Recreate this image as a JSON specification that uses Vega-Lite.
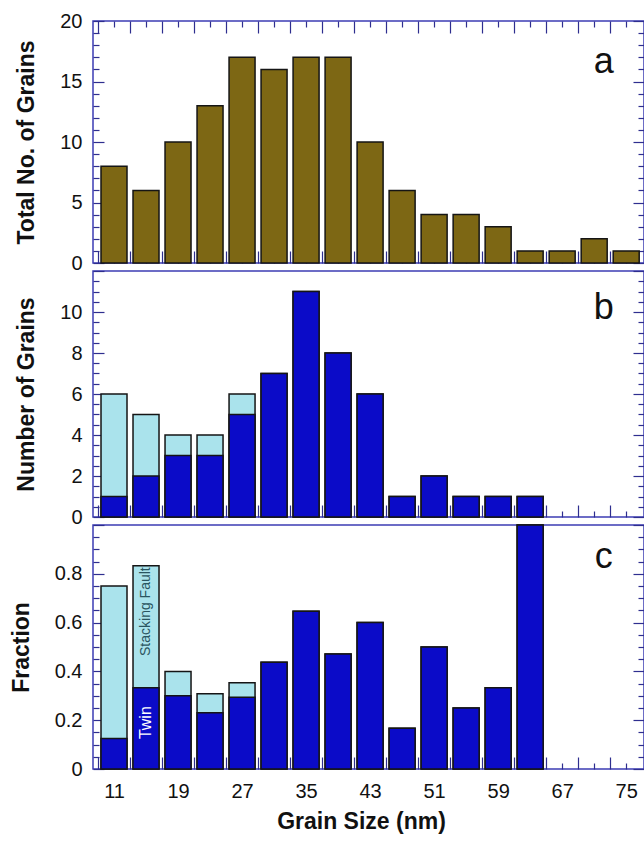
{
  "$schema": "https://vega.github.io/schema/vega-lite/v6.json",
  "autosize": {"type": "pad"},
  "padding": {"left": 9, "top": 10, "right": 0, "bottom": 0},
  "background": "white",
  "spacing": 8,
  "bounds": "flush",
  "config": {
    "font": "Liberation Sans",
    "view": {"stroke": "#3c3cb4", "strokeWidth": 1.5},
    "axis": {
      "domain": false, "grid": false, "tickColor": "#2e2e8f", "tickWidth": 1.2,
      "labelFont": "Liberation Sans", "labelFontSize": 20, "labelColor": "#111",
      "titleFont": "Liberation Sans", "titleFontSize": 23, "titleFontWeight": "bold", "titleColor": "#111",
      "labelOverlap": false, "labelBound": false, "labelFlush": false
    }
  },
  "datasets": {
    "total": [
      {"size": 11, "count": 8}, {"size": 15, "count": 6}, {"size": 19, "count": 10}, {"size": 23, "count": 13},
      {"size": 27, "count": 17}, {"size": 31, "count": 16}, {"size": 35, "count": 17}, {"size": 39, "count": 17},
      {"size": 43, "count": 10}, {"size": 47, "count": 6}, {"size": 51, "count": 4}, {"size": 55, "count": 4},
      {"size": 59, "count": 3}, {"size": 63, "count": 1}, {"size": 67, "count": 1}, {"size": 71, "count": 2},
      {"size": 75, "count": 1}
    ],
    "number": [
      {"size": 11, "twin": 1, "all": 6}, {"size": 15, "twin": 2, "all": 5}, {"size": 19, "twin": 3, "all": 4},
      {"size": 23, "twin": 3, "all": 4}, {"size": 27, "twin": 5, "all": 6}, {"size": 31, "twin": 7, "all": 7},
      {"size": 35, "twin": 11, "all": 11}, {"size": 39, "twin": 8, "all": 8}, {"size": 43, "twin": 6, "all": 6},
      {"size": 47, "twin": 1, "all": 1}, {"size": 51, "twin": 2, "all": 2}, {"size": 55, "twin": 1, "all": 1},
      {"size": 59, "twin": 1, "all": 1}, {"size": 63, "twin": 1, "all": 1}
    ],
    "fraction": [
      {"size": 11, "twin": 0.125, "all": 0.75}, {"size": 15, "twin": 0.333, "all": 0.833},
      {"size": 19, "twin": 0.3, "all": 0.4}, {"size": 23, "twin": 0.231, "all": 0.308},
      {"size": 27, "twin": 0.294, "all": 0.353}, {"size": 31, "twin": 0.4375, "all": 0.4375},
      {"size": 35, "twin": 0.647, "all": 0.647}, {"size": 39, "twin": 0.471, "all": 0.471},
      {"size": 43, "twin": 0.6, "all": 0.6}, {"size": 47, "twin": 0.167, "all": 0.167},
      {"size": 51, "twin": 0.5, "all": 0.5}, {"size": 55, "twin": 0.25, "all": 0.25},
      {"size": 59, "twin": 0.333, "all": 0.333}, {"size": 63, "twin": 1.0, "all": 1.0}
    ]
  },
  "vconcat": [
    {
      "width": 551, "height": 242,
      "layer": [
        {
          "data": {"name": "total"},
          "mark": {"type": "bar", "orient": "vertical", "size": 26, "color": "#7d6714", "stroke": "#151515", "strokeWidth": 1.5},
          "encoding": {
            "x": {"field": "size", "type": "quantitative", "scale": {"domain": [9, 76.6], "nice": false, "zero": false},
              "axis": {"orient": "bottom", "title": null, "labels": false,
                "values": [9,11,13,15,17,19,21,23,25,27,29,31,33,35,37,39,41,43,45,47,49,51,53,55,57,59,61,63,65,67,69,71,73,75],
                "tickSize": {"condition": {"test": "(datum.value - 9) % 4 === 0", "value": -12}, "value": -6}}},
            "y": {"field": "count", "type": "quantitative", "stack": null, "scale": {"domain": [0, 20], "nice": false},
              "axis": {"orient": "left", "title": "Total No. of Grains", "titleX": -60, "titleBaseline": "alphabetic", "labelPadding": 22,
                "values": [0,1,2,3,4,5,6,7,8,9,10,11,12,13,14,15,16,17,18,19,20],
                "tickSize": {"condition": {"test": "datum.value % 5 === 0", "value": -11}, "value": -6},
                "labelExpr": "datum.value % 5 === 0 ? format(datum.value, 'd') : ''"}}
          }
        },
        {
          "data": {"values": [{"size": 72.2, "value": 16.6, "label": "a"}]},
          "mark": {"type": "text", "fontSize": 36, "font": "Liberation Sans", "color": "#111", "align": "center", "baseline": "middle"},
          "encoding": {
            "x": {"field": "size", "type": "quantitative",
              "axis": {"orient": "top", "title": null, "labels": false,
                "values": [9,11,13,15,17,19,21,23,25,27,29,31,33,35,37,39,41,43,45,47,49,51,53,55,57,59,61,63,65,67,69,71,73,75],
                "tickSize": {"condition": {"test": "(datum.value - 9) % 4 === 0", "value": -12}, "value": -6}}},
            "y": {"field": "value", "type": "quantitative",
              "axis": {"orient": "right", "title": null, "labels": false,
                "values": [0,1,2,3,4,5,6,7,8,9,10,11,12,13,14,15,16,17,18,19,20],
                "tickSize": {"condition": {"test": "datum.value % 5 === 0", "value": -11}, "value": -6}}},
            "text": {"field": "label"}
          }
        }
      ],
      "resolve": {"axis": {"x": "independent", "y": "independent"}}
    },
    {
      "width": 551, "height": 246,
      "layer": [
        {
          "data": {"name": "number"},
          "mark": {"type": "bar", "orient": "vertical", "size": 26, "color": "#aae3ec", "stroke": "#151515", "strokeWidth": 1.5},
          "encoding": {
            "x": {"field": "size", "type": "quantitative", "scale": {"domain": [9, 76.6], "nice": false, "zero": false},
              "axis": {"orient": "bottom", "title": null, "labels": false,
                "values": [9,11,13,15,17,19,21,23,25,27,29,31,33,35,37,39,41,43,45,47,49,51,53,55,57,59,61,63,65,67,69,71,73,75],
                "tickSize": {"condition": {"test": "(datum.value - 9) % 4 === 0", "value": -12}, "value": -6}}},
            "y": {"field": "all", "type": "quantitative", "stack": null, "scale": {"domain": [0, 12], "nice": false},
              "axis": {"orient": "left", "title": "Number of Grains", "titleX": -60, "titleBaseline": "alphabetic", "labelPadding": 22,
                "values": [0,0.5,1,1.5,2,2.5,3,3.5,4,4.5,5,5.5,6,6.5,7,7.5,8,8.5,9,9.5,10,10.5,11,11.5,12],
                "tickSize": {"condition": {"test": "datum.value % 2 === 0", "value": -11}, "value": -6},
                "labelExpr": "datum.value % 2 === 0 && datum.value < 11 ? format(datum.value, 'd') : ''"}}
          }
        },
        {
          "data": {"name": "number"},
          "mark": {"type": "bar", "orient": "vertical", "size": 26, "color": "#0b0bc8", "stroke": "#151515", "strokeWidth": 1.5},
          "encoding": {
            "x": {"field": "size", "type": "quantitative", "axis": null},
            "y": {"field": "twin", "type": "quantitative", "stack": null, "axis": null}
          }
        },
        {
          "data": {"values": [{"size": 72.2, "value": 10.2, "label": "b"}]},
          "mark": {"type": "text", "fontSize": 36, "font": "Liberation Sans", "color": "#111", "align": "center", "baseline": "middle"},
          "encoding": {
            "x": {"field": "size", "type": "quantitative", "axis": null},
            "y": {"field": "value", "type": "quantitative",
              "axis": {"orient": "right", "title": null, "labels": false,
                "values": [0,0.5,1,1.5,2,2.5,3,3.5,4,4.5,5,5.5,6,6.5,7,7.5,8,8.5,9,9.5,10,10.5,11,11.5,12],
                "tickSize": {"condition": {"test": "datum.value % 2 === 0", "value": -11}, "value": -6}}},
            "text": {"field": "label"}
          }
        }
      ],
      "resolve": {"axis": {"x": "independent", "y": "independent"}}
    },
    {
      "width": 551, "height": 244,
      "layer": [
        {
          "data": {"name": "fraction"},
          "mark": {"type": "bar", "orient": "vertical", "size": 26, "color": "#aae3ec", "stroke": "#151515", "strokeWidth": 1.5},
          "encoding": {
            "x": {"field": "size", "type": "quantitative", "scale": {"domain": [9, 76.6], "nice": false, "zero": false},
              "axis": {"orient": "bottom", "title": "Grain Size (nm)", "labelPadding": 18, "titleX": 268, "titleY": 59, "titleBaseline": "alphabetic", "titleAlign": "center",
                "values": [9,11,13,15,17,19,21,23,25,27,29,31,33,35,37,39,41,43,45,47,49,51,53,55,57,59,61,63,65,67,69,71,73,75],
                "tickSize": {"condition": {"test": "(datum.value - 9) % 4 === 0", "value": -12}, "value": -6},
                "labelExpr": "(datum.value - 11) % 8 === 0 ? format(datum.value, 'd') : ''"}},
            "y": {"field": "all", "type": "quantitative", "stack": null, "scale": {"domain": [0, 1], "nice": false},
              "axis": {"orient": "left", "title": "Fraction", "titleX": -65, "titleBaseline": "alphabetic", "labelPadding": 22,
                "values": [0,0.05,0.1,0.15,0.2,0.25,0.3,0.35,0.4,0.45,0.5,0.55,0.6,0.65,0.7,0.75,0.8,0.85,0.9,0.95,1],
                "tickSize": {"condition": {"test": "abs(datum.value * 5 - round(datum.value * 5)) < 0.001", "value": -11}, "value": -6},
                "labelExpr": "abs(datum.value * 5 - round(datum.value * 5)) < 0.001 && datum.value < 0.99 ? (datum.value === 0 ? '0' : format(datum.value, '.1f')) : ''"}}
          }
        },
        {
          "data": {"name": "fraction"},
          "mark": {"type": "bar", "orient": "vertical", "size": 26, "color": "#0b0bc8", "stroke": "#151515", "strokeWidth": 1.5},
          "encoding": {
            "x": {"field": "size", "type": "quantitative", "axis": null},
            "y": {"field": "twin", "type": "quantitative", "stack": null, "axis": null}
          }
        },
        {
          "data": {"values": [
            {"size": 15, "value": 0.19, "label": "Twin", "kind": "twin"},
            {"size": 15, "value": 0.645, "label": "Stacking Fault", "kind": "sf"}
          ]},
          "mark": {"type": "text", "font": "Liberation Sans", "angle": 270, "align": "center", "baseline": "middle"},
          "encoding": {
            "x": {"field": "size", "type": "quantitative", "axis": null},
            "y": {"field": "value", "type": "quantitative", "axis": null},
            "text": {"field": "label"},
            "color": {"field": "kind", "type": "nominal", "scale": {"domain": ["twin", "sf"], "range": ["#ffffff", "#2a5560"]}, "legend": null},
            "size": {"field": "kind", "type": "nominal", "scale": {"domain": ["twin", "sf"], "range": [16, 14]}, "legend": null},
            "fontWeight": {"field": "kind", "type": "nominal", "scale": {"domain": ["twin", "sf"], "range": ["bold", "normal"]}, "legend": null}
          }
        },
        {
          "data": {"values": [{"size": 72.2, "value": 0.87, "label": "c"}]},
          "mark": {"type": "text", "fontSize": 36, "font": "Liberation Sans", "color": "#111", "align": "center", "baseline": "middle"},
          "encoding": {
            "x": {"field": "size", "type": "quantitative", "axis": null},
            "y": {"field": "value", "type": "quantitative",
              "axis": {"orient": "right", "title": null, "labels": false,
                "values": [0,0.05,0.1,0.15,0.2,0.25,0.3,0.35,0.4,0.45,0.5,0.55,0.6,0.65,0.7,0.75,0.8,0.85,0.9,0.95,1],
                "tickSize": {"condition": {"test": "abs(datum.value * 5 - round(datum.value * 5)) < 0.001", "value": -11}, "value": -6}}},
            "text": {"field": "label"}
          }
        }
      ],
      "resolve": {"axis": {"x": "independent", "y": "independent"}}
    }
  ]
}
